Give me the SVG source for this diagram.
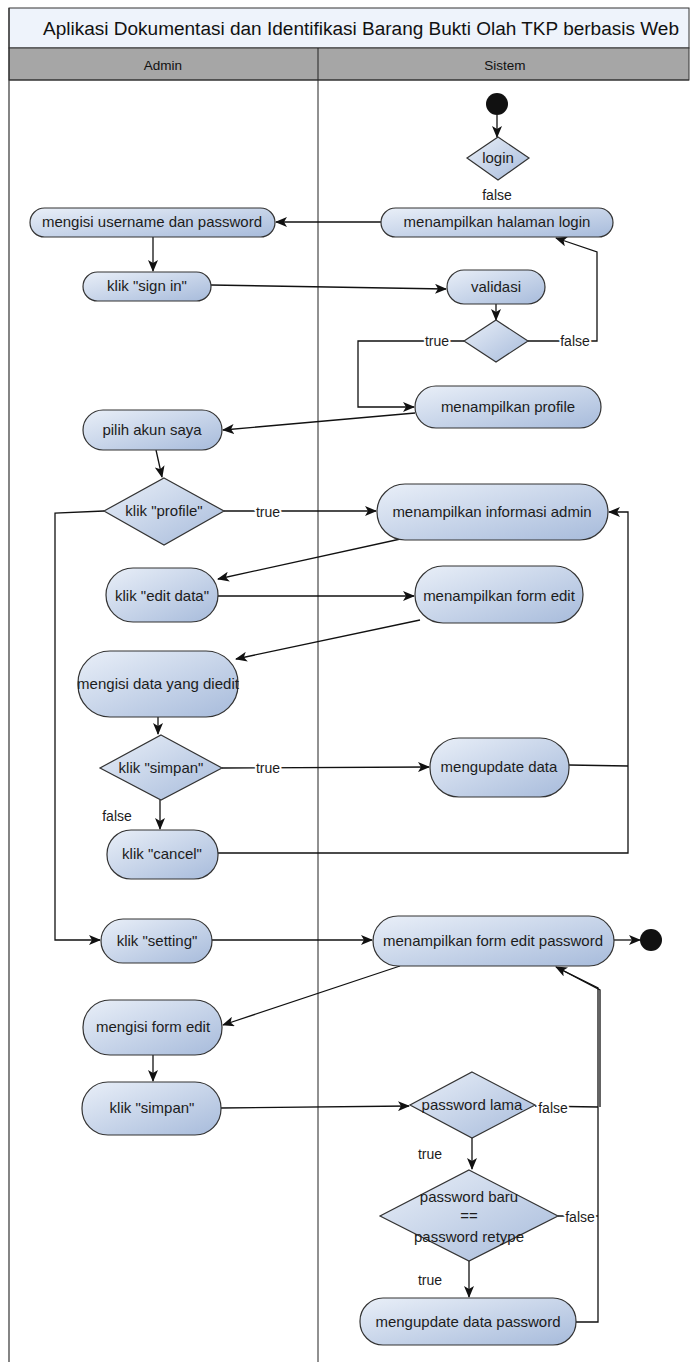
<svg xmlns="http://www.w3.org/2000/svg" width="690" height="1362" viewBox="0 0 690 1362">
<defs>
<linearGradient id="g" x1="0" y1="0" x2="1" y2="1">
<stop offset="0" stop-color="#e9eff8"/>
<stop offset="1" stop-color="#a7bbdb"/>
</linearGradient>
<marker id="a" viewBox="0 0 12 10" refX="11" refY="5" markerWidth="12" markerHeight="10" markerUnits="userSpaceOnUse" orient="auto">
<path d="M0,0 L12,5 L0,10 L3,5 z" fill="#111"/>
</marker>
<style>
.n{fill:url(#g);stroke:#333;stroke-width:1.2}
.t{font-family:"Liberation Sans",Arial,sans-serif;font-size:15px;fill:#1c1c1c;text-anchor:middle}
.l{font-family:"Liberation Sans",Arial,sans-serif;font-size:14px;fill:#1c1c1c;text-anchor:middle;stroke:#fff;stroke-width:4px;paint-order:stroke;stroke-linejoin:round}
.c{fill:none;stroke:#111;stroke-width:1.3}
.ca{fill:none;stroke:#111;stroke-width:1.3;marker-end:url(#a)}
</style>
</defs>
<rect x="0" y="0" width="690" height="1362" fill="#fff"/>
<g id="frame">
<rect x="9" y="8" width="680" height="40" fill="#eef3fb" stroke="#333" stroke-width="1"/>
<rect x="9" y="48" width="680" height="32" fill="#a6a6a6" stroke="#333" stroke-width="1"/>
<line x1="9" y1="8" x2="9" y2="1362" stroke="#333" stroke-width="1.2"/>
<line x1="318" y1="48" x2="318" y2="1362" stroke="#222" stroke-width="1"/>
<line x1="9" y1="80" x2="689" y2="80" stroke="#333" stroke-width="1"/>
<text x="361" y="35" textLength="636" lengthAdjust="spacingAndGlyphs" style="font-family:'Liberation Sans',Arial,sans-serif;font-size:18px;fill:#111;text-anchor:middle">Aplikasi Dokumentasi dan Identifikasi Barang Bukti Olah TKP berbasis Web</text>
<text x="163" y="70" style="font-family:'Liberation Sans',Arial,sans-serif;font-size:13.5px;fill:#111;text-anchor:middle">Admin</text>
<text x="505" y="70" style="font-family:'Liberation Sans',Arial,sans-serif;font-size:13.5px;fill:#111;text-anchor:middle">Sistem</text>
</g>
<g id="connectors">
<path class="ca" d="M497,115 L497,137"/>
<path class="ca" d="M381,222 L276,222"/>
<path class="ca" d="M153,237 L153,271"/>
<path class="ca" d="M211,285 L446,289"/>
<path class="ca" d="M496,304 L496,320"/>
<path class="ca" d="M464,341 L358,341 L358,407 L414,407"/>
<path class="ca" d="M528,341 L597,341 L597,252 L556,238"/>
<path class="ca" d="M415,413 L223,430"/>
<path class="ca" d="M156,450 L162,477"/>
<path class="ca" d="M224,511 L376,511"/>
<path class="ca" d="M104,511 L55,513 L55,940 L100,940"/>
<path class="ca" d="M405,538 L218,579"/>
<path class="ca" d="M218,596 L414,596"/>
<path class="ca" d="M420,620 L236,659"/>
<path class="ca" d="M158,717 L158,734"/>
<path class="ca" d="M222,768 L429,767"/>
<path class="c" d="M569,765 L628,766"/>
<path class="ca" d="M218,853 L628,853 L628,512 L609,512"/>
<path class="ca" d="M160,800 L160,829"/>
<path class="ca" d="M212,940 L372,940"/>
<path class="ca" d="M614,940 L640,940"/>
<path class="ca" d="M400,966 L223,1025"/>
<path class="ca" d="M153,1055 L153,1081"/>
<path class="ca" d="M221,1108 L409,1106"/>
<path class="c" d="M535,1106 L598,1107"/>
<path class="ca" d="M472,1138 L472,1169"/>
<path class="c" d="M558,1216 L598,1216"/>
<path class="ca" d="M469,1261 L469,1297"/>
<path class="ca" d="M576,1322 L598,1322 L598,988 L556,967"/>
<path class="c" d="M600,1107 L600,990 L560,969"/>
</g>
<g id="start"><circle cx="497" cy="104" r="11" fill="#111"/></g>
<g id="login"><polygon class="n" points="498,137 529,158 498,180 467,158"/><text class="t" x="498" y="163">login</text></g>
<g id="halaman-login"><rect class="n" x="381" y="208" width="232" height="29" rx="14.5"/><text class="t" x="497" y="227">menampilkan halaman login</text></g>
<g id="mengisi-username"><rect class="n" x="30" y="208" width="245" height="29" rx="14.5"/><text class="t" x="152" y="227">mengisi username dan password</text></g>
<g id="sign-in"><rect class="n" x="83" y="272" width="128" height="29" rx="14.5"/><text class="t" x="147" y="291">klik "sign in"</text></g>
<g id="validasi"><rect class="n" x="447" y="270" width="98" height="34" rx="17"/><text class="t" x="496" y="292">validasi</text></g>
<g id="cek-validasi"><polygon class="n" points="496,320 528,341 496,362 464,341"/></g>
<g id="profile"><rect class="n" x="415" y="386" width="186" height="42" rx="21"/><text class="t" x="508" y="412">menampilkan profile</text></g>
<g id="akun-saya"><rect class="n" x="83" y="410" width="139" height="40" rx="20"/><text class="t" x="152" y="435">pilih akun saya</text></g>
<g id="klik-profile"><polygon class="n" points="164,478 224,511 164,545 104,511"/><text class="t" x="164" y="516">klik "profile"</text></g>
<g id="info-admin"><rect class="n" x="377" y="484" width="231" height="56" rx="28"/><text class="t" x="492" y="517">menampilkan informasi admin</text></g>
<g id="edit-data"><rect class="n" x="106" y="568" width="112" height="54" rx="27"/><text class="t" x="162" y="601">klik "edit data"</text></g>
<g id="form-edit"><rect class="n" x="415" y="566" width="168" height="57" rx="28"/><text class="t" x="499" y="601">menampilkan form edit</text></g>
<g id="mengisi-data"><rect class="n" x="78" y="651" width="160" height="66" rx="32"/><text class="t" x="158" y="689">mengisi data yang diedit</text></g>
<g id="klik-simpan-1"><polygon class="n" points="161,735 222,768 161,800 100,768"/><text class="t" x="161" y="773">klik "simpan"</text></g>
<g id="update-data"><rect class="n" x="430" y="738" width="139" height="59" rx="29"/><text class="t" x="499" y="772">mengupdate data</text></g>
<g id="cancel"><rect class="n" x="107" y="830" width="111" height="49" rx="24"/><text class="t" x="162" y="859">klik "cancel"</text></g>
<g id="setting"><rect class="n" x="101" y="919" width="111" height="44" rx="22"/><text class="t" x="157" y="946">klik "setting"</text></g>
<g id="form-password"><rect class="n" x="373" y="916" width="241" height="50" rx="25"/><text class="t" x="493" y="946">menampilkan form edit password</text></g>
<g id="end"><circle cx="651" cy="940" r="11" fill="#111"/></g>
<g id="mengisi-form"><rect class="n" x="83" y="1000" width="139" height="55" rx="27"/><text class="t" x="153" y="1032">mengisi form edit</text></g>
<g id="klik-simpan-2"><rect class="n" x="82" y="1082" width="139" height="53" rx="26"/><text class="t" x="152" y="1113">klik "simpan"</text></g>
<g id="password-lama"><polygon class="n" points="472,1072 535,1105 472,1138 410,1105"/><text class="t" x="472" y="1110">password lama</text></g>
<g id="password-baru"><polygon class="n" points="469,1170 558,1216 469,1261 380,1216"/><text class="t" x="469" y="1202">password baru</text><text class="t" x="469" y="1221">==</text><text class="t" x="469" y="1242">password retype</text></g>
<g id="update-password"><rect class="n" x="360" y="1298" width="216" height="47" rx="23"/><text class="t" x="468" y="1327">mengupdate data password</text></g>
<g id="labels">
<text class="l" x="497" y="200">false</text>
<text class="l" x="437" y="346">true</text>
<text class="l" x="575" y="346">false</text>
<text class="l" x="268" y="517">true</text>
<text class="l" x="268" y="773">true</text>
<text class="l" x="117" y="821">false</text>
<text class="l" x="553" y="1113">false</text>
<text class="l" x="430" y="1159">true</text>
<text class="l" x="580" y="1222">false</text>
<text class="l" x="430" y="1285">true</text>
</g>
</svg>
